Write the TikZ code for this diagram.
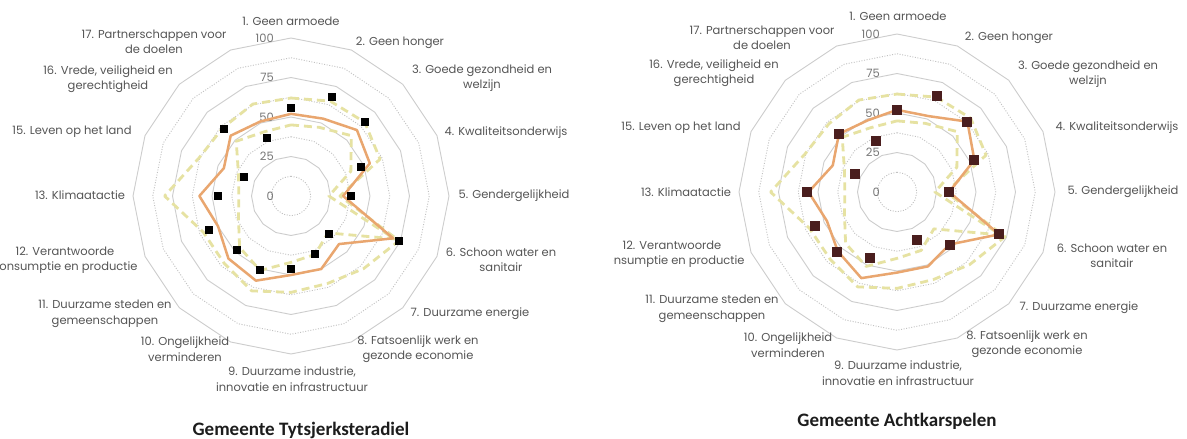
\documentclass[tikz,border=0pt]{standalone}
\usepackage{fontspec}
\setmainfont{Poppins}
\newfontfamily\titlefont{Carlito}

\definecolor{ringsolid}{HTML}{CDCDCD}
\definecolor{ringdot}{HTML}{C2C2C2}
\definecolor{scoreorange}{HTML}{E9A66F}
\definecolor{rangeyellow}{HTML}{E6E2A2}
\definecolor{labelgray}{HTML}{555555}
\definecolor{scalegray}{HTML}{777777}
\definecolor{markbrown}{HTML}{4A1E1E}
\definecolor{titleblack}{HTML}{1C1C1C}

\tikzset{
  gridring/.style={draw=ringsolid, line width=0.9pt},
  gridhalf/.style={draw=ringdot, line width=0.9pt, dash pattern=on 1pt off 1.6pt},
  scoreline/.style={draw=scoreorange, line width=2.5pt, line join=round},
  rangeline/.style={draw=rangeyellow, line width=2.8pt, dash pattern=on 8pt off 5pt, line join=round},
  goallabel/.style={font=\fontsize{11.5}{15.5}\selectfont, text=labelgray, align=center, inner sep=0pt},
  scalelabel/.style={font=\fontsize{11.5}{12}\selectfont, text=scalegray, anchor=east, inner sep=0pt},
  markL/.style={fill=black, minimum size=8pt, inner sep=0pt},
  markR/.style={fill=markbrown, minimum size=10pt, inner sep=0pt},
  paneltitle/.style={font=\titlefont\bfseries\fontsize{19}{22}\selectfont, text=titleblack, inner sep=0pt},
}

% 16-gon at a given score (0--100), one corner on every goal axis
\newcommand\ringpath[1]{({-90}:{1.58*#1}) \foreach \k in {1,...,15}{ -- ({-90+22.5*\k}:{1.58*#1}) } -- cycle}

% background grid with the score scale
\newcommand\radargrid[1]{%
  \foreach \r in {12.5,37.5,62.5,87.5} {\draw[gridhalf] \ringpath{\r};}
  \foreach \r in {25,50,75,100} {\draw[gridring] \ringpath{\r};}
  \foreach \s in {0,25,50,75,100} {\node[scalelabel] (#1-scale\s) at (-17,{-1.58*\s}) {\s};}
}

% closed line through 16 scores
\newcommand\radarseries[3]{%
  \edef\radarlist{#3}%
  \foreach \v [count=\k from 0] in \radarlist {\coordinate (#1-\k) at ({-90+22.5*\k}:{1.58*\v});}
  \draw[#2] (#1-0) \foreach \k in {1,...,15}{ -- (#1-\k)} -- cycle;
}

% square markers, given as axis/score pairs
\newcommand\radarmarks[3]{%
  \foreach \k/\v in {#3} {\node[#2] (#1-\k) at ({-90+22.5*\k}:{1.58*\v}) {};}
}

% band of comparable municipalities (upper and lower bound)
\newcommand\rangehigh{62,65,66,61,31,74,65,60,61,65,60,60,80,63,61,63}
\newcommand\rangelow{45,47,54,41,24,71,33,40,42,51,46,36,33,36,49,44}

\begin{document}
\begin{tikzpicture}[x=1pt,y=-1pt]
\useasboundingbox (0,0) rectangle (1187,439);
\fill[white] (0,0) rectangle (1187,439);

% ---------------- Tytsjerksteradiel ----------------
\begin{scope}
\clip (0,0) rectangle (606,439);
\begin{scope}[shift={(291,196)}]
  \radargrid{tg}
  \radarseries{thi}{rangeline}{\rangehigh}
  \radarseries{tlo}{rangeline}{\rangelow}
  \radarseries{tsc}{scoreline}{52,53,59,54,33,70,43,50,50,58,56,50,58,46,54,51}
  \radarmarks{tmk}{markL}{0/56,1/68,2/66,3/48,4/38,5/74,6/34,7/40,8/46,9/51,10/48,11/56,12/46,13/32,14/60,15/40}
\end{scope}
\node[goallabel] (tl1)  at (291,21)  {1. Geen armoede};
\node[goallabel] (tl2)  at (400,43)  {2. Geen honger};
\node[goallabel] (tl3)  at (482,78)  {3. Goede gezondheid en\\welzijn};
\node[goallabel] (tl4)  at (506,133) {4. Kwaliteitsonderwijs};
\node[goallabel] (tl5)  at (514,196) {5. Gendergelijkheid};
\node[goallabel] (tl6)  at (501,260) {6. Schoon water en\\sanitair};
\node[goallabel] (tl7)  at (470,314) {7. Duurzame energie};
\node[goallabel] (tl8)  at (418,349) {8. Fatsoenlijk werk en\\gezonde economie};
\node[goallabel] (tl9)  at (292,379) {9. Duurzame industrie,\\innovatie en infrastructuur};
\node[goallabel] (tl10) at (185,349) {10. Ongelijkheid\\verminderen};
\node[goallabel] (tl11) at (105,314) {11. Duurzame steden en\\gemeenschappen};
\node[goallabel] (tl12) at (65,260)  {12. Verantwoorde\\consumptie en productie};
\node[goallabel] (tl13) at (80,195)  {13. Klimaatactie};
\node[goallabel] (tl15) at (72,132)  {15. Leven op het land};
\node[goallabel] (tl16) at (108,79)  {16. Vrede, veiligheid en\\gerechtigheid};
\node[goallabel] (tl17) at (154,42)  {17. Partnerschappen voor\\de doelen};
\end{scope}
\node[paneltitle] (titleT) at (301,430) {Gemeente Tytsjerksteradiel};

% ---------------- Achtkarspelen ----------------
\begin{scope}
\clip (613,0) rectangle (1187,439);
\begin{scope}[shift={(897,192)}]
  \radargrid{ag}
  \radarseries{ahi}{rangeline}{\rangehigh}
  \radarseries{alo}{rangeline}{\rangelow}
  \radarseries{asc}{scoreline}{52,52,63,53,33,70,47,51,51,59,53,48,56,44,52,49}
  \radarmarks{amk}{markR}{0/52,1/66,2/63,3/53,4/33,5/70,6/47,7/33,9/45,10/54,11/56,12/57,13/29,14/52,15/35}
\end{scope}
\node[goallabel] (al1)  at (898,16)   {1. Geen armoede};
\node[goallabel] (al2)  at (1009,38)  {2. Geen honger};
\node[goallabel] (al3)  at (1088,74)  {3. Goede gezondheid en\\welzijn};
\node[goallabel] (al4)  at (1117,128) {4. Kwaliteitsonderwijs};
\node[goallabel] (al5)  at (1123,192) {5. Gendergelijkheid};
\node[goallabel] (al6)  at (1112,256) {6. Schoon water en\\sanitair};
\node[goallabel] (al7)  at (1079,308) {7. Duurzame energie};
\node[goallabel] (al8)  at (1027,344) {8. Fatsoenlijk werk en\\gezonde economie};
\node[goallabel] (al9)  at (898,373)  {9. Duurzame industrie,\\innovatie en infrastructuur};
\node[goallabel] (al10) at (788,345)  {10. Ongelijkheid\\verminderen};
\node[goallabel] (al11) at (712,309)  {11. Duurzame steden en\\gemeenschappen};
\node[goallabel] (al12) at (672,254)  {12. Verantwoorde\\consumptie en productie};
\node[goallabel] (al13) at (686,192)  {13. Klimaatactie};
\node[goallabel] (al15) at (681,128)  {15. Leven op het land};
\node[goallabel] (al16) at (714,73)   {16. Vrede, veiligheid en\\gerechtigheid};
\node[goallabel] (al17) at (762,38)   {17. Partnerschappen voor\\de doelen};
\end{scope}
\node[paneltitle] (titleA) at (897,421) {Gemeente Achtkarspelen};
\end{tikzpicture}
\end{document}
